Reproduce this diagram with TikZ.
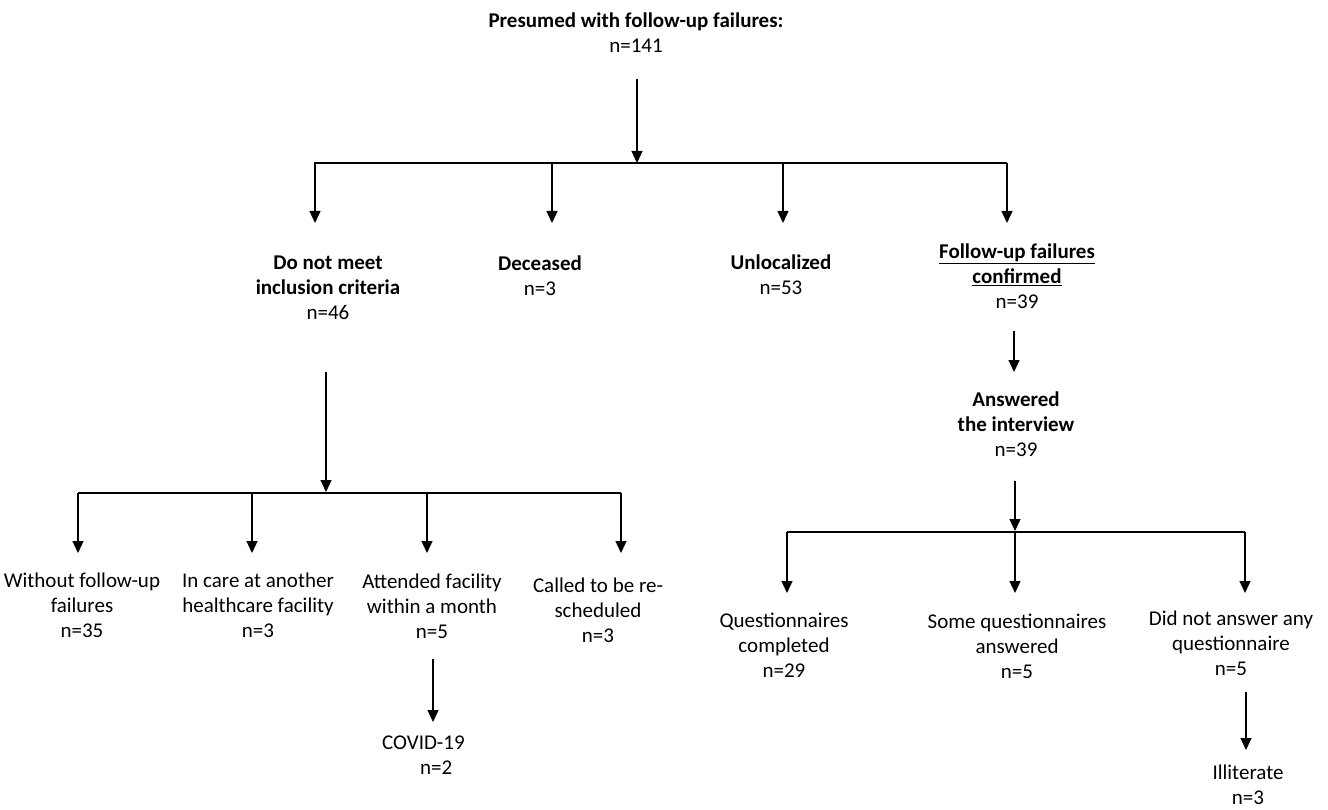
\documentclass[tikz,border=0pt]{standalone}
\usepackage{fontspec}
\setmainfont{Carlito}
\usetikzlibrary{arrows.meta,calc}
\begin{document}
\begin{tikzpicture}[x=1pt,y=-1pt,
  lbl/.style={align=center,inner sep=0pt,font=\fontsize{21}{25}\selectfont},
  conn/.style={line width=1.3pt,draw=black},
  arr/.style={conn,-{Triangle[length=12pt,width=11pt]}}]
\useasboundingbox (0,0) rectangle (1328,810);
% nodes
\node[lbl] (top) at (636,33) {\textbf{Presumed with follow-up failures:}\\n=141};
\node[lbl] (dnm) at (328,288) {\textbf{Do not meet}\\\textbf{inclusion criteria}\\n=46};
\node[lbl] (dec) at (540,276) {\textbf{Deceased}\\n=3};
\node[lbl] (unl) at (781,275) {\textbf{Unlocalized}\\n=53};
\node[lbl] (fuc) at (1017,276) {\textbf{\underline{Follow-up failures}}\\\textbf{\underline{confirmed}}\\n=39};
\node[lbl] (ans) at (1016,424) {\textbf{Answered}\\\textbf{the interview}\\n=39};
\node[lbl] (wf) at (82,605) {Without follow-up\\failures\\n=35};
\node[lbl] (ic) at (258,605) {In care at another\\healthcare facility\\n=3};
\node[lbl] (af) at (432,606) {Attended facility\\within a month\\n=5};
\node[lbl] (cr) at (598,610) {Called to be re-\\scheduled\\n=3};
\node[lbl,align=left,anchor=west] (cov) at (382,755) {COVID-19\\\hspace*{38pt}n=2};
\node[lbl] (qc) at (784,645) {Questionnaires\\completed\\n=29};
\node[lbl] (sq) at (1017,646) {Some questionnaires\\answered\\n=5};
\node[lbl] (dna) at (1231,643) {Did not answer any\\questionnaire\\n=5};
\node[lbl] (ill) at (1248,785) {Illiterate\\n=3};
% junction coordinates
\coordinate (j0) at (637,163);
\coordinate (h1a) at (314,163);
\coordinate (h1b) at (1007,163);
\coordinate (t11) at (315,223);
\coordinate (t12) at (552,223);
\coordinate (t13) at (783,223);
\coordinate (t14) at (1007,223);
\coordinate (j2) at (326,492);
\coordinate (h2a) at (78,493);
\coordinate (h2b) at (621,493);
\coordinate (t21) at (78,553);
\coordinate (t22) at (252,553);
\coordinate (t23) at (427,553);
\coordinate (t24) at (621,553);
\coordinate (j3) at (1015,531);
\coordinate (h3a) at (787,532);
\coordinate (h3b) at (1245,532);
\coordinate (t31) at (787,593);
\coordinate (t32) at (1015,593);
\coordinate (t33) at (1245,593);
\coordinate (tans) at (1014,372);
\coordinate (tcov) at (433,722);
\coordinate (till) at (1246,750);
% connectors
\draw[arr] (top.south -| j0) ++(0,26) -- (j0);
\draw[conn] (h1a) -- (h1b);
\foreach \t in {t11,t12,t13,t14} \draw[arr] (\t |- h1a) -- (\t);
\draw[arr] (fuc.south -| tans) ++(0,22) -- (tans);
\draw[arr] (ans.south -| j3) ++(0,24) -- (j3);
\draw[arr] (dnm.south -| j2) ++(0,52) -- (j2);
\draw[conn] (h2a) -- (h2b);
\foreach \t in {t21,t22,t23,t24} \draw[arr] (\t |- h2a) -- (\t);
\draw[conn] (h3a) -- (h3b);
\foreach \t in {t31,t32,t33} \draw[arr] (\t |- h3a) -- (\t);
\draw[arr] (af.south -| tcov) ++(0,20) -- (tcov);
\draw[arr] (dna.south -| till) ++(0,16) -- (till);
\end{tikzpicture}
\end{document}
